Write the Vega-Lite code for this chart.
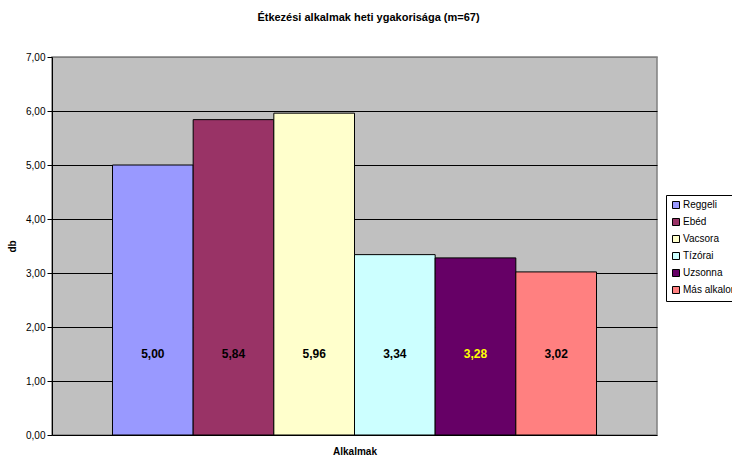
{
  "$schema": "https://vega.github.io/schema/vega-lite/v6.json",
  "autosize": "none",
  "width": 605,
  "height": 378,
  "padding": {"left": 52, "top": 57, "right": 75, "bottom": 23},
  "background": "white",
  "config": {
    "font": "Liberation Sans",
    "locale": {"number": {"decimal": ",", "thousands": " ", "grouping": [3], "currency": ["", ""]}},
    "view": {"fill": "#C0C0C0", "stroke": "#808080", "strokeWidth": 1.5}
  },
  "title": {
    "text": "Étkezési alkalmak heti ygakorisága (m=67)",
    "fontSize": 11,
    "fontWeight": "bold",
    "color": "black",
    "anchor": "middle",
    "dx": 14,
    "offset": 29
  },
  "data": {
    "values": [
      {"alkalom": "Reggeli", "db": 5.00},
      {"alkalom": "Ebéd", "db": 5.84},
      {"alkalom": "Vacsora", "db": 5.96},
      {"alkalom": "Tízórai", "db": 3.34},
      {"alkalom": "Uzsonna", "db": 3.28},
      {"alkalom": "Más alkalom", "db": 3.02}
    ]
  },
  "encoding": {
    "x": {
      "field": "alkalom",
      "type": "nominal",
      "sort": null,
      "scale": {"paddingInner": 0, "paddingOuter": 0.75},
      "axis": {
        "title": "Alkalmak",
        "titleFontSize": 10,
        "titleFontWeight": "bold",
        "titleColor": "black",
        "titlePadding": 11,
        "labels": false,
        "ticks": false,
        "domain": false
      }
    }
  },
  "layer": [
    {
      "mark": {"type": "bar", "stroke": "black", "strokeWidth": 1},
      "encoding": {
        "y": {
          "field": "db",
          "type": "quantitative",
          "scale": {"domain": [0, 7], "nice": false},
          "axis": {
            "title": "db",
            "titleFontSize": 10,
            "titleFontWeight": "bold",
            "titleColor": "black",
            "titlePadding": 8,
            "values": [0, 1, 2, 3, 4, 5, 6, 7],
            "format": ".2f",
            "labelFontSize": 10,
            "labelColor": "black",
            "tickColor": "black",
            "tickSize": 5,
            "domainColor": "black",
            "gridColor": {"condition": {"test": "datum.value == 7", "value": "#808080"}, "value": "black"},
            "gridOpacity": 1,
            "gridWidth": 1
          }
        },
        "color": {
          "field": "alkalom",
          "type": "nominal",
          "sort": null,
          "scale": {
            "domain": ["Reggeli", "Ebéd", "Vacsora", "Tízórai", "Uzsonna", "Más alkalom"],
            "range": ["#9999FF", "#993366", "#FFFFCC", "#CCFFFF", "#660066", "#FF8080"]
          },
          "legend": {
            "title": null,
            "orient": "none",
            "legendX": 614,
            "legendY": 138,
            "padding": 5,
            "strokeColor": "black",
            "fillColor": "white",
            "symbolType": "square",
            "symbolSize": 49,
            "symbolStrokeColor": "black",
            "symbolStrokeWidth": 1,
            "symbolOpacity": 1,
            "labelFontSize": 10,
            "labelColor": "black",
            "labelOffset": 2,
            "rowPadding": 5
          }
        }
      }
    },
    {
      "mark": {"type": "text", "fontSize": 12, "fontWeight": "bold"},
      "encoding": {
        "y": {"datum": 1.5, "type": "quantitative"},
        "text": {"field": "db", "type": "quantitative", "format": ".2f"},
        "color": {
          "condition": {"test": "datum.alkalom === 'Uzsonna'", "value": "#FFFF00"},
          "value": "black"
        }
      }
    }
  ]
}
